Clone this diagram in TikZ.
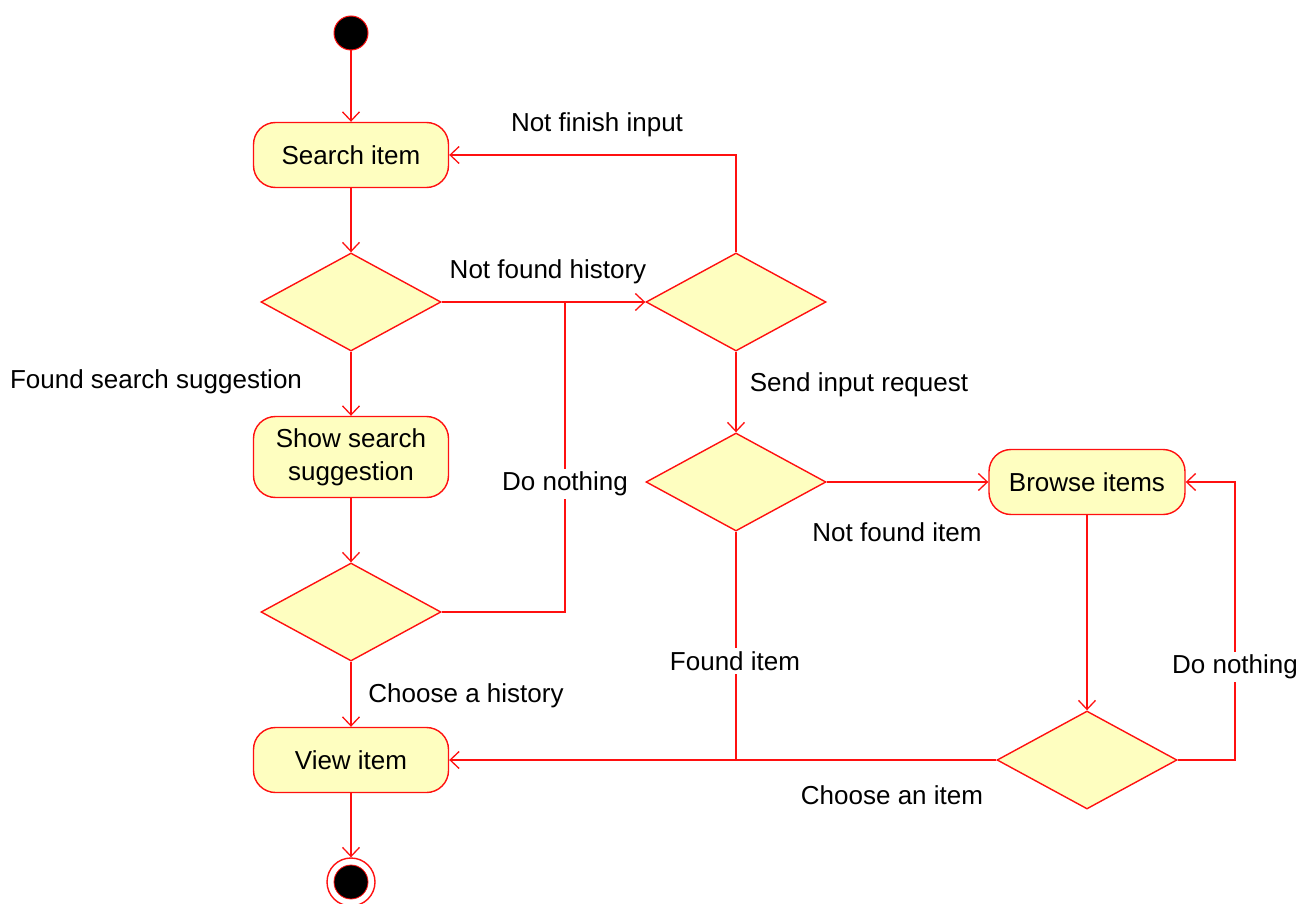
\documentclass[tikz,border=0pt]{standalone}
\usepackage{fontspec}
\setmainfont{Liberation Sans}
\usetikzlibrary{shapes.geometric,arrows.meta}
\definecolor{actfill}{HTML}{FEFEC0}
\definecolor{actline}{HTML}{FF1010}
\begin{document}
\begin{tikzpicture}[x=1pt,y=-1pt,
  every node/.style={font=\fontsize{26}{33}\selectfont},
  activity/.style={draw=actline,fill=actfill,line width=1.4pt,rounded corners=22pt,
    minimum width=195pt,minimum height=65pt,inner sep=0pt,align=center},
  decision/.style={draw=actline,fill=actfill,line width=1.4pt,shape=diamond,
    minimum width=180pt,minimum height=98pt,inner sep=0pt},
  flow/.style={draw=actline,line width=1.3pt,-{Straight Barb[length=9pt,width=17pt,line width=1.3pt]}},
  link/.style={draw=actline,line width=1.3pt},
  lbl/.style={inner sep=2pt},
  cut/.style={fill=white,inner sep=3pt}]
\useasboundingbox (0,0) rectangle (1301,904);

% start and end points
\node[circle,fill=black,draw=actline,line width=1pt,minimum size=34pt,inner sep=0pt] (start) at (351,33) {};
\node[circle,draw=actline,line width=1.4pt,fill=white,minimum size=48pt,inner sep=0pt] (stop) at (351,882) {};
\node[circle,fill=black,draw=actline,line width=0.8pt,minimum size=34pt,inner sep=0pt] (stopdot) at (351,882) {};

% activities
\node[activity] (search) at (351,155) {Search item};
\node[activity,minimum height=81pt] (suggest) at (351,457) {Show search\\suggestion};
\node[activity] (view) at (351,760) {View item};
\node[activity,minimum width=196pt] (browse) at (1087,482) {Browse items};

% decisions
\node[decision] (d1) at (351,302) {};
\node[decision] (d2) at (736,302) {};
\node[decision] (d3) at (351,612) {};
\node[decision] (d4) at (736,482) {};
\node[decision] (d5) at (1087,760) {};

% join and bend points
\coordinate (joinA) at (565,302);
\coordinate (joinB) at (736,760);
\coordinate (bendA) at (736,155);
\coordinate (bendB) at (565,612);
\coordinate (bendC) at (1235,760);
\coordinate (bendD) at (1235,482);

% main flow
\draw[flow] (start) -- (search);
\draw[flow] (search) -- (d1);
\draw[flow] (d1.east) -- (d2.west);
\draw[flow] (d2.north) -- (bendA) -- (search.east);
\draw[flow] (d1) -- (suggest);
\draw[flow] (suggest) -- (d3);
\draw[link] (d3.east) -- (bendB) -- (joinA);
\draw[flow] (d3) -- (view);
\draw[flow] (view) -- (stop);
\draw[flow] (d2) -- (d4);
\draw[flow] (d4.east) -- (browse.west);
\draw[link] (d4.south) -- (joinB);
\draw[flow] (browse) -- (d5);
\draw[flow] (d5.west) -- (view.east);
\draw[flow] (d5.east) -- (bendC) -- (bendD) -- (browse.east);

% guard labels
\node[lbl] (lNotFinish) at (597,125) {Not finish input};
\node[lbl] (lNotHist) at (548,272) {Not found history};
\node[lbl] (lFoundSug) at (156,382) {Found search suggestion};
\node[cut] (lNothingA) at (565,484) {Do nothing};
\node[lbl] (lChooseHist) at (466,696) {Choose a history};
\node[lbl] (lSendReq) at (859,385) {Send input request};
\node[lbl] (lNotItem) at (897,532) {Not found item};
\node[cut] (lFoundItem) at (735,661) {Found item};
\node[cut] (lNothingB) at (1235,667) {Do nothing};
\node[lbl] (lChooseItem) at (892,795) {Choose an item};
\end{tikzpicture}
\end{document}
